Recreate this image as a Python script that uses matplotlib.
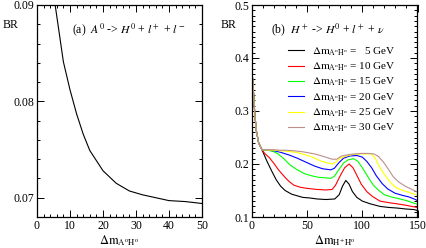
import matplotlib
matplotlib.use("Agg")
import matplotlib.pyplot as plt
from matplotlib.ticker import MultipleLocator

plt.rcParams['font.family'] = ['Liberation Serif', 'DejaVu Serif']
plt.rcParams['mathtext.fontset'] = 'stix'

# ---- panel (a) data ----
a_x = [5.5, 8, 10, 12, 14, 16, 20, 24, 28, 32, 36, 40, 45, 50]
a_br = [0.090, 0.0841, 0.0812, 0.0787, 0.0766, 0.0749, 0.0728, 0.0715,
        0.0707, 0.0703, 0.0700, 0.0697, 0.0696, 0.0694]

# ---- panel (b) data ----
b_start_x = [0.5, 1.5, 2.5, 4, 6, 9]
b_start_y = [0.362, 0.33, 0.295, 0.262, 0.24, 0.227]

b5_x = [13.6, 17.8, 22, 26, 30, 36, 41, 46, 52, 59, 67, 75, 79, 82, 85, 88, 91, 95,
        100, 107, 116, 124, 131, 140, 147, 150]
b5_y = [.205, .187, .170, .158, .150, .143, .140, .137, .136, .134, .133, .134, .142,
        .158, .169, .162, .148, .137, .130, .125, .120, .118, .117, .115, .114, .112]
b10_x = [11.5, 15.7, 19.9, 24, 29.4, 33.6, 38, 44, 50, 59, 67, 72.6, 75.7, 80, 84, 88,
         91.5, 94.7, 99, 104, 109, 116, 124, 131, 140, 147, 150]
b10_y = [.220, .212, .201, .189, .176, .167, .160, .156, .154, .152, .151, .152, .160,
         .178, .193, .200, .193, .180, .162, .148, .139, .130, .127, .125, .122, .119, .118]
b15_x = [14.6, 20, 23, 28.3, 34.6, 41, 47.3, 53.6, 60, 66, 71.5, 74.7, 79, 83, 87.3, 92,
         96, 100, 105, 110, 115, 120, 126, 132, 140, 147, 150]
b15_y = [.226, .223, .220, .211, .198, .189, .182, .178, .175, .174, .173, .177, .190,
         .202, .208, .210, .205, .193, .176, .160, .150, .142, .138, .135, .131, .126, .124]
b20_x = [14.6, 20, 26, 33.6, 41, 48.3, 56.8, 64, 71.5, 74.7, 79, 83, 88.4, 95, 100, 104,
         108.4, 112.6, 118, 123, 129.5, 136, 142, 147, 150]
b20_y = [.226, .225, .222, .217, .211, .204, .196, .191, .189, .192, .203, .211, .215,
         .216, .213, .205, .193, .178, .163, .153, .145, .141, .138, .134, .131]
b25_x = [14.6, 20, 25.2, 32.5, 40, 47.3, 54.7, 62, 68.4, 72.6, 75.7, 80, 85.2, 91.5, 99,
         108.4, 112, 115, 119, 123, 127, 131, 137, 143, 147, 150]
b25_y = [.226, .226, .225, .224, .222, .218, .213, .206, .202, .200, .203, .211, .215,
         .218, .219, .219, .210, .197, .183, .172, .162, .155, .150, .146, .143, .141]
b30_x = [14.6, 20, 25.2, 30.4, 37.8, 46.2, 56.8, 65.2, 72.6, 76.8, 81, 88.4, 99, 105,
         110.5, 114.7, 119, 123, 128, 133, 139, 145, 150]
b30_y = [.227, .227, .226, .226, .225, .223, .219, .214, .209, .209, .215, .218, .220,
         .220, .219, .214, .204, .192, .176, .166, .158, .152, .147]

b_labels = ["5", "10", "15", "20", "25", "30"]
b_colors = ["black", "#ff0000", "#00ff00", "#0000ff", "#ffff00", "#bc8f8f"]
b_series = [(b5_x, b5_y), (b10_x, b10_y), (b15_x, b15_y),
            (b20_x, b20_y), (b25_x, b25_y), (b30_x, b30_y)]

fig = plt.figure(figsize=(4.27, 2.48), dpi=100)
W, H = 427, 248
axa = fig.add_axes([37 / W, 1 - 217 / H, 165 / W, 212 / H])
axb = fig.add_axes([252 / W, 1 - 217 / H, 165.5 / W, 212 / H])

fs = 8.5
for ax in (axa, axb):
    ax.tick_params(which='both', direction='in', top=True, right=True,
                   labelsize=fs, width=0.7, pad=2)
    ax.tick_params(which='major', length=5)
    ax.tick_params(which='minor', length=2.5)
    for s in ax.spines.values():
        s.set_linewidth(0.9)

# panel (a)
axa.plot(a_x, a_br, color='black', lw=0.8)
axa.set_xlim(0, 50)
axa.set_ylim(0.068, 0.09)
axa.xaxis.set_major_locator(MultipleLocator(10))
axa.xaxis.set_minor_locator(MultipleLocator(2))
axa.yaxis.set_major_locator(MultipleLocator(0.01))
axa.yaxis.set_minor_locator(MultipleLocator(0.002))
axa.set_xlabel(r"$\Delta\mathrm{m}_{\mathrm{A^{o}H^{o}}}$", fontsize=9, labelpad=1)
axa.text(0.21, 0.882, r"(a)  $A^0$ -> $H^0$ + $l^+$ + $l^-$", transform=axa.transAxes,
         fontsize=fs, va='center', ha='left')

# panel (b)
for (xs, ys), lab, c in zip(b_series, b_labels, b_colors):
    pad = "  " if len(lab) == 1 else ""
    axb.plot(b_start_x + xs, b_start_y + ys, color=c, lw=0.8,
             label=r"$\Delta\mathrm{m}_{\mathrm{A^{o}H^{o}}}$ = " + pad + lab + " GeV")
axb.set_xlim(0, 150)
axb.set_ylim(0.1, 0.5)
axb.xaxis.set_major_locator(MultipleLocator(50))
axb.xaxis.set_minor_locator(MultipleLocator(10))
axb.yaxis.set_major_locator(MultipleLocator(0.1))
axb.yaxis.set_minor_locator(MultipleLocator(0.01))
axb.set_xlabel(r"$\Delta\mathrm{m}_{\mathrm{H^{+}H^{o}}}$", fontsize=9, labelpad=1)
axb.text(0.115, 0.882, r"(b)  $H^+$ -> $H^0$ + $l^+$ + $\nu$", transform=axb.transAxes,
         fontsize=fs, va='center', ha='left')
axb.legend(loc='upper left', bbox_to_anchor=(0.218, 0.81), frameon=False,
           fontsize=fs - 0.5, handlelength=1.45, handletextpad=0.7,
           labelspacing=0.25, borderpad=0, borderaxespad=0)

fig.text(3 / W, 1 - 25 / H, "BR", fontsize=fs, va='center', ha='left')
fig.text(221 / W, 1 - 25 / H, "BR", fontsize=fs, va='center', ha='left')

fig.savefig("out.png", dpi=100)
